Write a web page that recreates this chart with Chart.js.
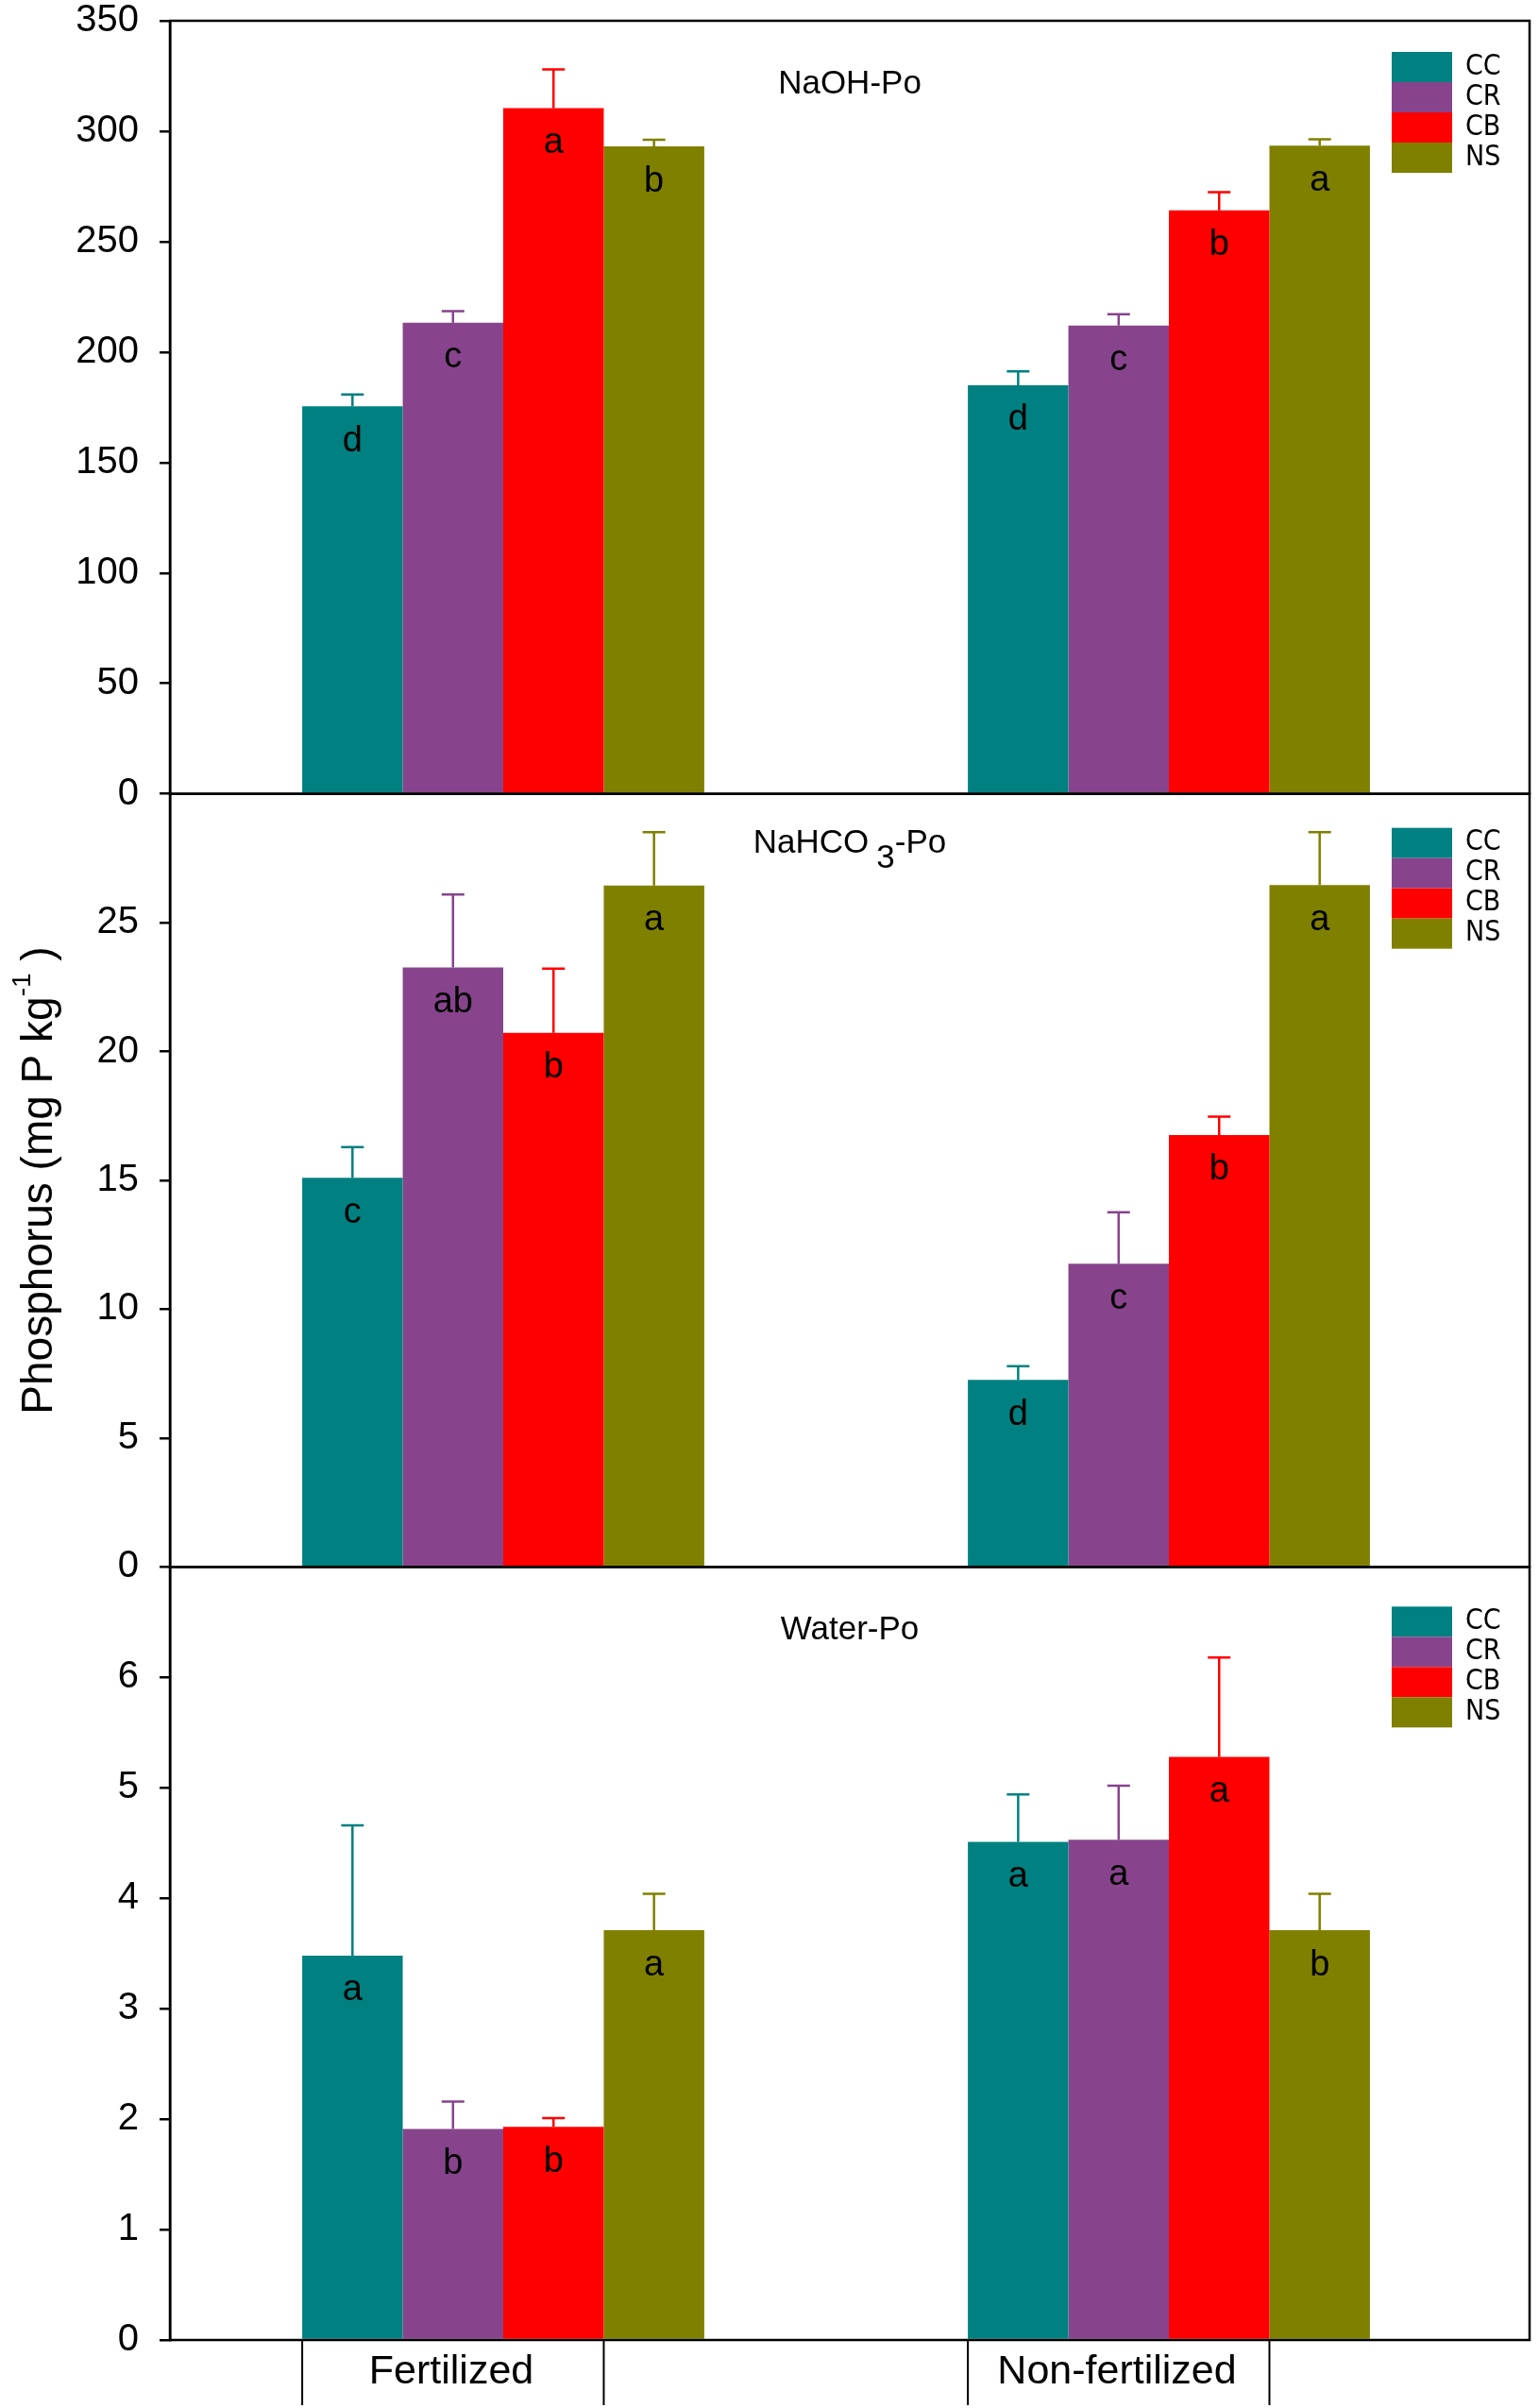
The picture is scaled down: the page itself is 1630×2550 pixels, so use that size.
<!DOCTYPE html>
<html>
<head>
<meta charset="utf-8">
<script src="https://cdn.jsdelivr.net/npm/chart.js@4.4.1/dist/chart.umd.min.js"></script>
<style>
html,body{margin:0;padding:0;background:#fff;}
#wrap{width:1630px;height:2550px;}
</style>
</head>
<body>
<div id="wrap"><canvas id="c" width="1630" height="2550"></canvas></div>
<script>
// ---------------- data ----------------
const categories = ['Fertilized', 'Non-fertilized'];
const series = ['CC', 'CR', 'CB', 'NS'];
const seriesColors = ['#008080', '#87448C', '#FF0000', '#808000'];

// values are [series][category]
const naohMean    = [[175.5, 185.0], [213.3, 212.0], [310.5, 264.2], [293.1, 293.5]];
const naohErr     = [[5.3, 6.3], [5.2, 5.1], [17.5, 8.2], [3.0, 2.8]];
const naohLetters = [['d', 'd'], ['c', 'c'], ['a', 'b'], ['b', 'a']];
const naohTicks   = [0, 50, 100, 150, 200, 250, 300, 350];
const naohMax     = 350;

const bicarbMean    = [[15.1, 7.26], [23.26, 11.77], [20.73, 16.76], [26.44, 26.46]];
const bicarbErr     = [[1.19, 0.53], [2.83, 1.99], [2.49, 0.71], [2.07, 2.05]];
const bicarbLetters = [['c', 'd'], ['ab', 'c'], ['b', 'b'], ['a', 'a']];
const bicarbTicks   = [0, 5, 10, 15, 20, 25];
const bicarbMax     = 30;

const waterMean    = [[3.48, 4.51], [1.91, 4.53], [1.93, 5.28], [3.71, 3.71]];
const waterErr     = [[1.18, 0.43], [0.25, 0.49], [0.08, 0.90], [0.33, 0.33]];
const waterLetters = [['a', 'a'], ['b', 'a'], ['b', 'a'], ['a', 'b']];
const waterTicks   = [0, 1, 2, 3, 4, 5, 6];
const waterMax     = 7;

const yTitleMain = 'Phosphorus (mg P kg';
const yTitleSup = '-1';
const yTitleEnd = ' )';

// ---------------- style ----------------
const FONT = '"Liberation Sans", Arial, Helvetica, sans-serif';
const NARROW = '"Liberation Sans Narrow", "Arial Narrow", "DejaVu Sans Condensed", sans-serif';
const LW = 2.5;

const panels = [
  { id: 'yNaoh',   title: ['NaOH-Po'],            mean: naohMean,   err: naohErr,   letters: naohLetters,   ticks: naohTicks,   max: naohMax,   titleDy: 67, legendDy: 33 },
  { id: 'yBicarb', title: ['NaHCO', '3', '-Po'],  mean: bicarbMean, err: bicarbErr, letters: bicarbLetters, ticks: bicarbTicks, max: bicarbMax, titleDy: 53, legendDy: 36 },
  { id: 'yWater',  title: ['Water-Po'],           mean: waterMean,  err: waterErr,  letters: waterLetters,  ticks: waterTicks,  max: waterMax,  titleDy: 67, legendDy: 42 }
];

// ---------------- datasets ----------------
const datasets = [];
panels.forEach((p, pi) => {
  p.dsStart = datasets.length;
  series.forEach((s, si) => {
    datasets.push({
      label: s,
      data: p.mean[si].map((v, ci) => ({ x: ci, y: v })),
      backgroundColor: seriesColors[si],
      borderWidth: 0,
      xAxisID: 'x',
      yAxisID: p.id,
      stack: s,
      categoryPercentage: 0.604,
      barPercentage: 1.0
    });
  });
});

function yScale(p) {
  return {
    type: 'linear',
    position: 'left',
    stack: 'panels',
    stackWeight: 1,
    offset: false,
    stacked: false,
    min: 0,
    max: p.max,
    afterBuildTicks: (s) => { s.ticks = p.ticks.map(v => ({ value: v })); },
    afterFit: (s) => { s.width = 180; s.paddingTop = 0; s.paddingBottom = 0; },
    grid: { drawOnChartArea: false, drawTicks: true, tickLength: 11, lineWidth: LW, tickWidth: LW, color: '#000', tickColor: '#000' },
    border: { display: true, color: '#000', width: LW },
    ticks: { color: '#000', font: { family: FONT, size: 40, lineHeight: 1 }, padding: 22, autoSkip: false }
  };
}

const scales = {
  x: {
    type: 'linear',
    position: 'bottom',
    stacked: true,
    offset: false,
    min: -0.5007,
    max: 1.5418,
    afterBuildTicks: (s) => { s.ticks = categories.map((c, i) => ({ value: i })); },
    afterFit: (s) => { s.height = 72; s.paddingLeft = 0; s.paddingRight = 0; },
    grid: { display: false, drawTicks: false, offset: false },
    border: { display: false },
    ticks: {
      color: '#000', font: { family: FONT, size: 43, lineHeight: 1.2 }, padding: 8,
      autoSkip: false, maxRotation: 0, minRotation: 0, labelOffset: -55,
      callback: (v) => categories[v] !== undefined ? categories[v] : ''
    }
  },
  yWater: yScale(panels[2]),
  yBicarb: yScale(panels[1]),
  yNaoh: yScale(panels[0])
};

// ---------------- decorations plugin ----------------
const decor = {
  id: 'decor',
  afterDatasetsDraw(chart) {
    const ctx = chart.ctx;
    const ca = chart.chartArea;
    ctx.save();
    panels.forEach((p) => {
      const sc = chart.scales[p.id];
      // error bars and letters
      series.forEach((s, si) => {
        const meta = chart.getDatasetMeta(p.dsStart + si);
        meta.data.forEach((el, ci) => {
          const topPx = sc.getPixelForValue(p.mean[si][ci] + p.err[si][ci]);
          ctx.strokeStyle = seriesColors[si];
          ctx.lineWidth = LW;
          ctx.beginPath();
          ctx.moveTo(el.x, el.y);
          ctx.lineTo(el.x, topPx);
          ctx.moveTo(el.x - 12, topPx);
          ctx.lineTo(el.x + 12, topPx);
          ctx.stroke();
          ctx.fillStyle = '#000';
          ctx.font = '38px ' + FONT;
          ctx.textAlign = 'center';
          ctx.textBaseline = 'middle';
          ctx.fillText(p.letters[si][ci], el.x, el.y + 37);
        });
      });
      // panel frame
      ctx.strokeStyle = '#000';
      ctx.lineWidth = LW;
      ctx.strokeRect(ca.left, sc.top, ca.right - ca.left, sc.bottom - sc.top);
      // panel title
      const cx = (ca.left + ca.right) / 2;
      const ty = sc.top + p.titleDy;
      ctx.fillStyle = '#000';
      ctx.textBaseline = 'middle';
      ctx.textAlign = 'left';
      ctx.font = '35px ' + FONT;
      if (p.title.length === 1) {
        const w = ctx.measureText(p.title[0]).width;
        ctx.fillText(p.title[0], cx - w / 2, ty);
      } else {
        const w0 = ctx.measureText(p.title[0]).width;
        const w1 = ctx.measureText(p.title[1]).width;
        const w2 = ctx.measureText(p.title[2]).width;
        const gap = 8;
        const total = w0 + gap + w1 + w2;
        let x = cx - total / 2;
        ctx.fillText(p.title[0], x, ty); x += w0 + gap;
        ctx.fillText(p.title[1], x, ty + 16); x += w1;
        ctx.fillText(p.title[2], x, ty);
      }
      // legend
      const lx = ca.right - 146;
      series.forEach((s, si) => {
        const y0 = sc.top + p.legendDy + si * 32;
        ctx.fillStyle = seriesColors[si];
        ctx.fillRect(lx, y0, 64, 32);
        ctx.fillStyle = '#000';
        ctx.font = '30px ' + NARROW;
        ctx.textAlign = 'left';
        ctx.textBaseline = 'middle';
        ctx.fillText(s, lx + 64 + 14, y0 + 16);
      });
    });

    // x-axis separators (below the bottom panel)
    const bottomPanel = panels[2];
    const ccMeta = chart.getDatasetMeta(bottomPanel.dsStart + 0);
    const nsMeta = chart.getDatasetMeta(bottomPanel.dsStart + 3);
    ctx.strokeStyle = '#000';
    ctx.lineWidth = 2;
    ctx.beginPath();
    categories.forEach((c, ci) => {
      const a = ccMeta.data[ci], b = nsMeta.data[ci];
      [a.x - a.width / 2, b.x - b.width / 2].forEach(xx => {
        ctx.moveTo(xx, ca.bottom);
        ctx.lineTo(xx, ca.bottom + 69);
      });
    });
    ctx.stroke();

    // y-axis title with superscript, centred on the middle panel
    const mid = chart.scales[panels[1].id];
    ctx.save();
    ctx.translate(42, (mid.top + mid.bottom) / 2);
    ctx.rotate(-Math.PI / 2);
    ctx.fillStyle = '#000';
    ctx.textAlign = 'left';
    ctx.textBaseline = 'middle';
    ctx.font = '46px ' + FONT;
    const m1 = ctx.measureText(yTitleMain).width;
    const m3 = ctx.measureText(yTitleEnd).width;
    ctx.font = '28px ' + FONT;
    const m2 = ctx.measureText(yTitleSup).width;
    let x = -(m1 + m2 + m3) / 2;
    ctx.font = '46px ' + FONT;
    ctx.fillText(yTitleMain, x, 0); x += m1;
    ctx.font = '28px ' + FONT;
    ctx.fillText(yTitleSup, x, -18); x += m2;
    ctx.font = '46px ' + FONT;
    ctx.fillText(yTitleEnd, x, 0);
    ctx.restore();

    ctx.restore();
  }
};

new Chart(document.getElementById('c'), {
  type: 'bar',
  data: { datasets },
  options: {
    responsive: false,
    animation: false,
    devicePixelRatio: 1,
    layout: { padding: { top: 22, right: 10, left: 0, bottom: 0 } },
    plugins: { legend: { display: false }, tooltip: { enabled: false } },
    scales
  },
  plugins: [decor]
});
</script>
</body>
</html>
